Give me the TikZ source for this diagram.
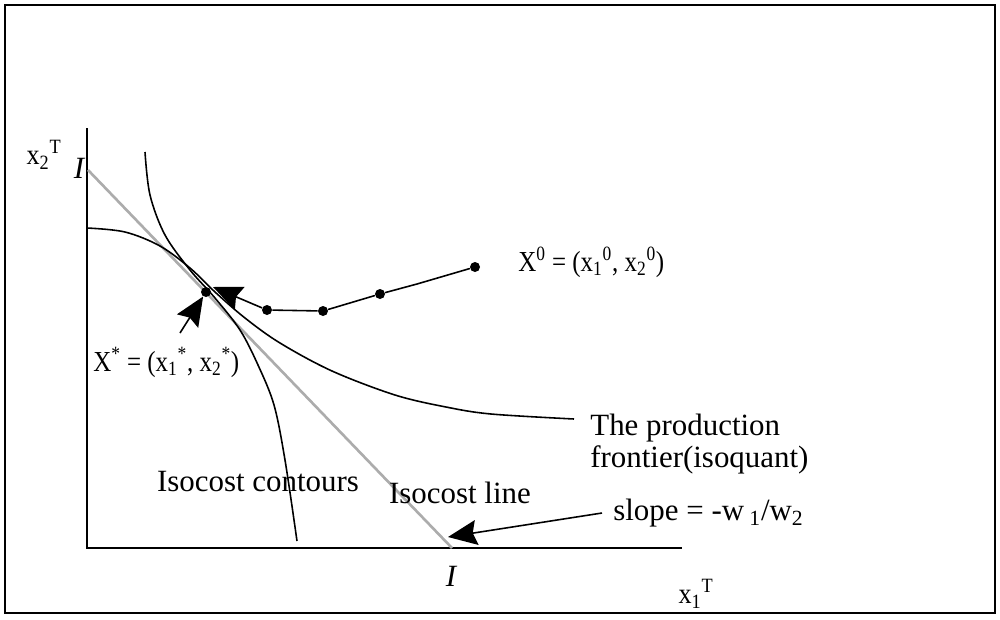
\documentclass[tikz,border=0pt]{standalone}
\usepackage{fontspec}
\usepackage{graphicx}
\setmainfont{Liberation Serif}
\usetikzlibrary{arrows.meta}

\newcommand{\condtext}[2][0.86]{\scalebox{#1}[1]{#2}}

\tikzset{
  lbl/.style={font=\fontsize{17.6}{18.5}\selectfont, inner sep=0pt},
  mlbl/.style={font=\fontsize{16.5}{18}\selectfont, inner sep=0pt},
  curve/.style={line width=0.9pt},
  axis/.style={line width=1.1pt},
  isoline/.style={gray!65, line width=1.5pt},
  dot/.style={circle, fill, inner sep=0pt, minimum size=0.2cm},
  bigarrow/.style={line width=0.9pt, -{Stealth[length=0.58cm, width=0.5cm, inset=0.08cm]}}
}

\begin{document}
\begin{tikzpicture}[x=0.02cm, y=-0.02cm]
  \useasboundingbox (0,0) rectangle (1000,619);
  \draw[line width=1.2pt] (5,5) rectangle (995,613);

  % Axes
  \coordinate (ytop) at (87,128);
  \coordinate (O) at (87,548);
  \coordinate (xend) at (682,548);
  \draw[axis] (ytop) -- (O) -- (xend);
  \node[mlbl] (x2T) at (44,155) {\condtext[0.9]{x\textsubscript{2}\textsuperscript{T}}};
  \node[mlbl] (x1T) at (696,594) {\condtext[0.9]{x\textsubscript{1}\textsuperscript{T}}};

  % Isocost line
  \coordinate (Iy) at (88,170);
  \coordinate (Ix) at (452,548);
  \draw[isoline] (Iy) -- (Ix);
  \node[lbl, font=\fontsize{17.6}{18.5}\selectfont\itshape] (Itop) at (79,168) {I};
  \node[lbl, font=\fontsize{17.6}{18.5}\selectfont\itshape] (Ibot) at (451,576) {I};

  % Production frontier
  \draw[curve] plot[smooth, tension=0.55] coordinates {(87,228) (125,232) (160,246) (190,268) (215,292) (245,318) (280,343) (332,371) (395,395) (446,407) (491,414) (574,419)};

  % Isocost contour
  \draw[curve] plot[smooth, tension=0.55] coordinates {(145,152) (150,195) (165,235) (190,270) (215,298) (240,330) (258,365) (274,405) (285,460) (297,541)};

  % Path of input points
  \node[dot] (xstar) at (206,292) {};
  \node[dot] (p1) at (267,310) {};
  \node[dot] (p2) at (323,311) {};
  \node[dot] (p3) at (380,294) {};
  \node[dot] (x0) at (475,267) {};
  \coordinate (p4) at (417,284);
  \coordinate (tip) at (213,287);
  \draw[curve] (x0) -- (p4) -- (p3) -- (p2) -- (p1);
  \draw[bigarrow] (p1) -- (tip);

  % Labels
  \node[mlbl, anchor=west] (x0lbl) at (518,262) {\condtext{X\textsuperscript{0} = (x\textsubscript{1}\textsuperscript{0}, x\textsubscript{2}\textsuperscript{0})}};
  \node[mlbl, anchor=west] (xslbl) at (93,362) {\condtext{X\textsuperscript{*} = (x\textsubscript{1}\textsuperscript{*}, x\textsubscript{2}\textsuperscript{*})}};
  \coordinate (xstail) at (180,333);
  \draw[bigarrow] (xstail) -- (xstar);

  \node[lbl, align=left, anchor=west] (pf) at (590,444) {The production\\frontier(isoquant)};
  \node[lbl] (contours) at (258,482) {Isocost contours};
  \node[lbl] (isoLbl) at (460,493) {Isocost line};
  \node[lbl, anchor=west, inner xsep=0.22cm] (slope) at (602,513) {slope = -w\,\textsubscript{1}/w\textsubscript{2}};
  \coordinate (stip) at (448,537);
  \draw[bigarrow] (slope.west) -- (stip);
\end{tikzpicture}
\end{document}
